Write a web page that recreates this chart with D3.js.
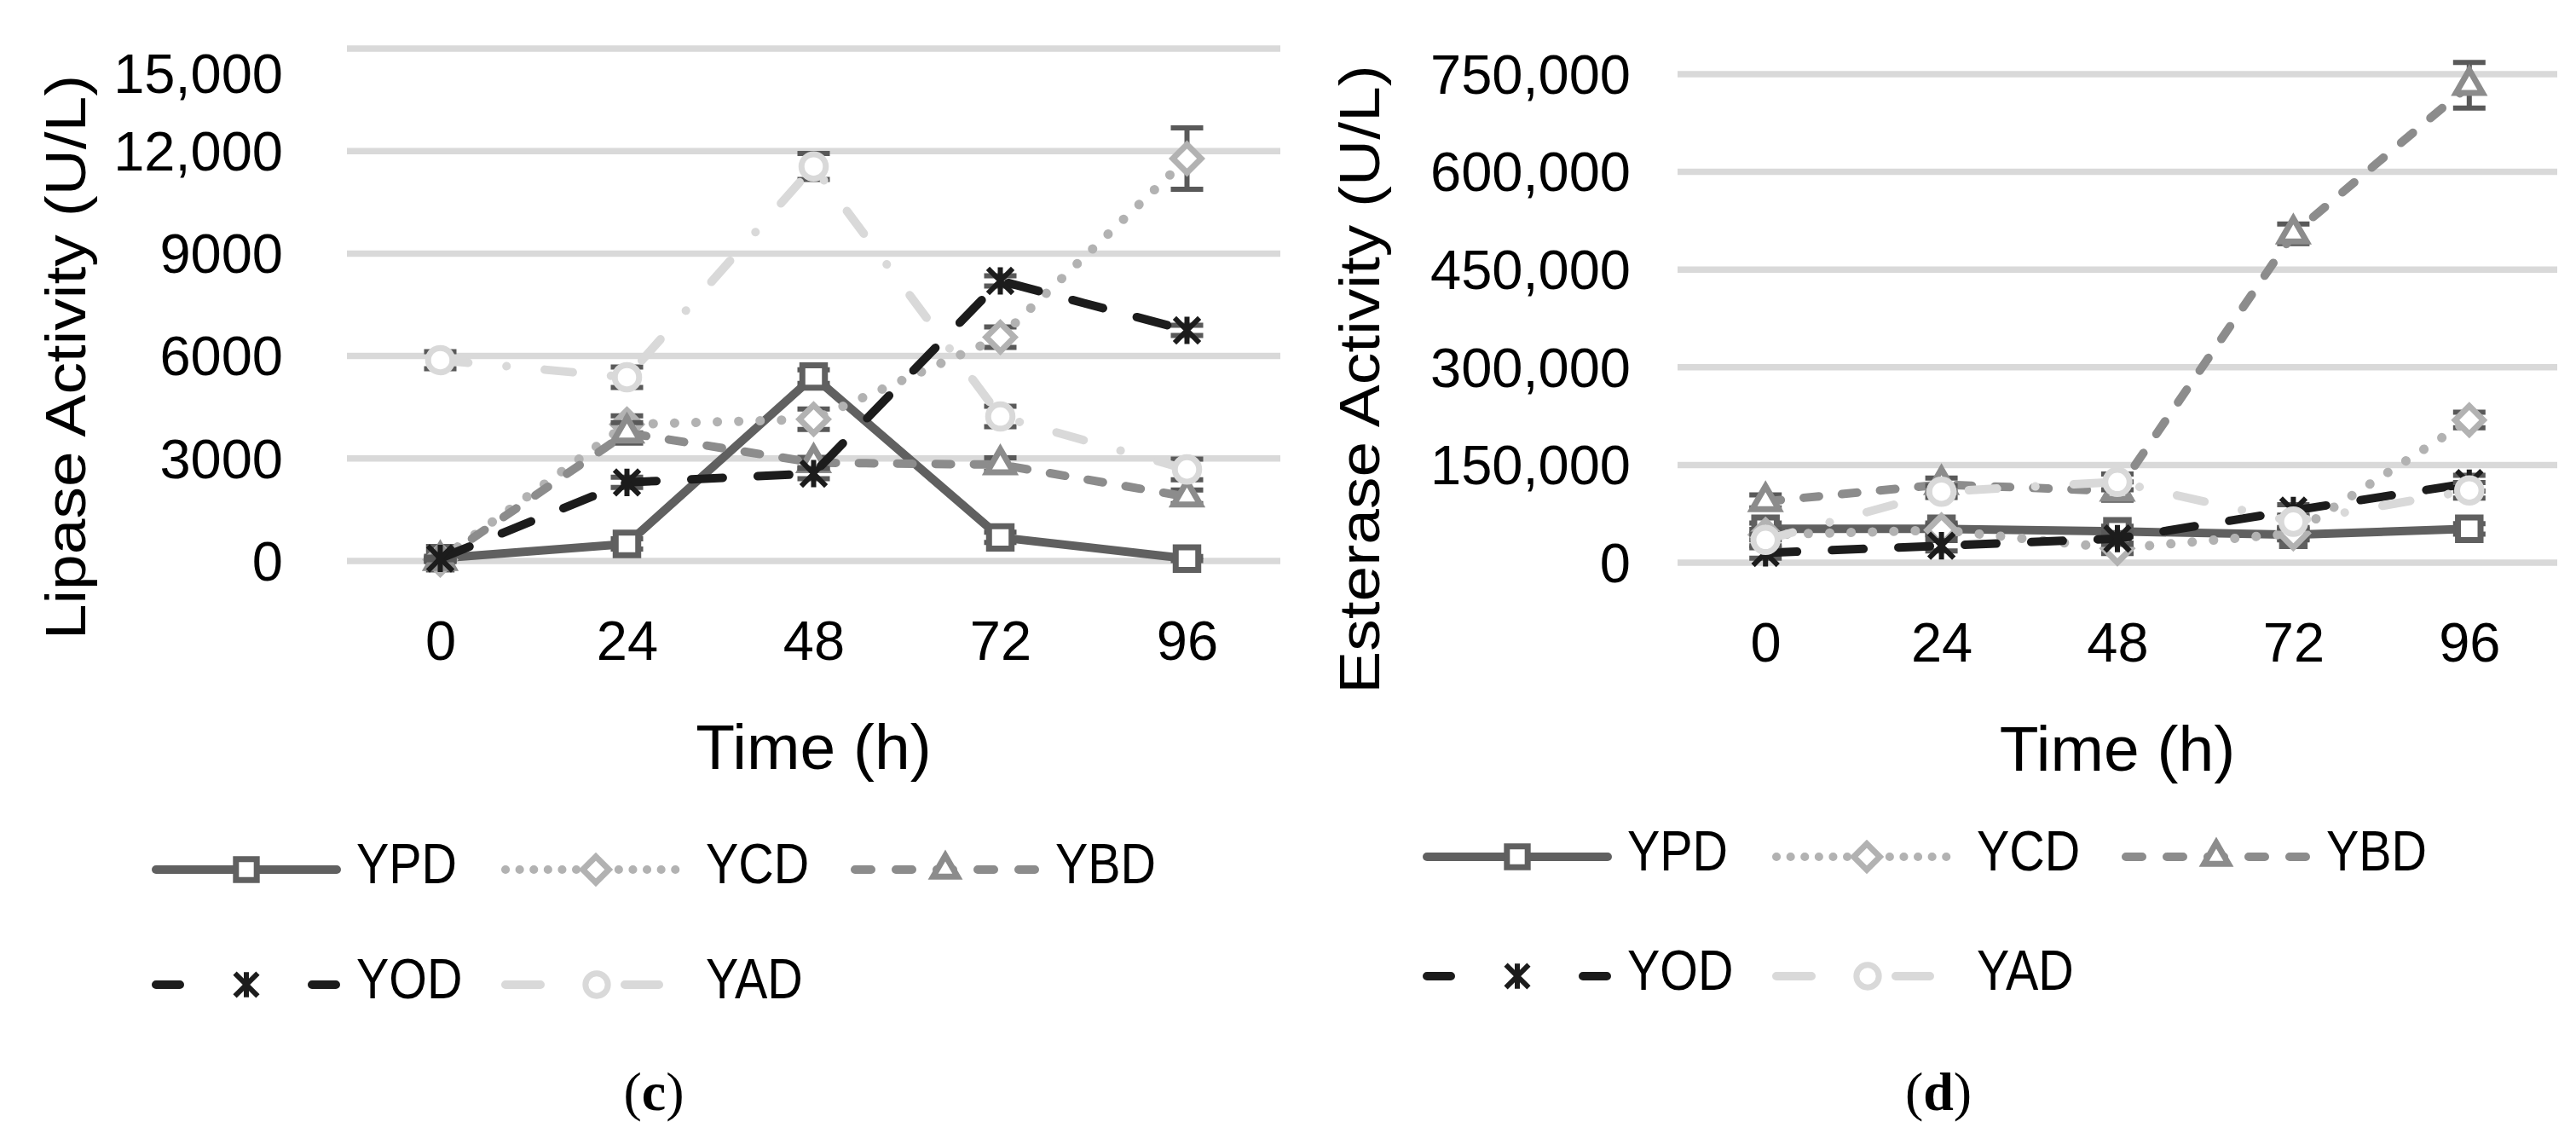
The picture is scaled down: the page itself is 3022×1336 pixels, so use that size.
<!DOCTYPE html>
<html>
<head>
<meta charset="utf-8">
<script src="https://cdn.jsdelivr.net/npm/d3@7"></script>
<style>
  body { margin: 0; background: #fff; }
  svg { display: block; }
</style>
</head>
<body>
<svg id="fig" width="3022" height="1336"></svg>
<script>
// time points (h) and series
var times = [0, 24, 48, 72, 96];
var seriesNames = ["YPD", "YCD", "YBD", "YOD", "YAD"];

// (c) lipase activity, U/L
var lipaseYPD = [80, 500, 5400, 690, 70];
var lipaseYCD = [40, 4000, 4150, 6550, 11780];
var lipaseYBD = [20, 3750, 2880, 2820, 1880];
var lipaseYOD = [75, 2300, 2560, 8200, 6750];
var lipaseYAD = [5880, 5380, 11550, 4230, 2680];
// error bars (sd)
var lipaseErrYPD = [60, 150, 200, 150, 60];
var lipaseErrYCD = [40, 250, 300, 300, 900];
var lipaseErrYBD = [40, 300, 150, 200, 200];
var lipaseErrYOD = [40, 150, 150, 150, 150];
var lipaseErrYAD = [250, 300, 380, 300, 300];
var lipaseTicks = [0, 3000, 6000, 9000, 12000, 15000];
var lipaseTickLabels = ["0", "3000", "6000", "9000", "12,000", "15,000"];

// (d) esterase activity, U/L
var esteraseYPD = [52000, 52000, 48000, 43000, 52000];
var esteraseYCD = [43000, 50000, 22000, 45000, 219000];
var esteraseYBD = [94000, 120000, 110000, 505000, 733000];
var esteraseYOD = [15000, 26000, 37000, 80000, 122000];
var esteraseYAD = [35000, 109000, 124000, 63000, 111000];
var esteraseErrYPD = [9000, 9000, 8000, 8000, 8000];
var esteraseErrYCD = [8000, 8000, 8000, 9000, 12000];
var esteraseErrYBD = [10000, 10000, 14000, 15000, 35000];
var esteraseErrYOD = [8000, 8000, 9000, 9000, 12000];
var esteraseErrYAD = [9000, 9000, 12000, 10000, 12000];
var esteraseTicks = [0, 150000, 300000, 450000, 600000, 750000];
var esteraseTickLabels = ["0", "150,000", "300,000", "450,000", "600,000", "750,000"];

// custom excel-like star marker (x plus vertical bar)
var symbolStar = {
  draw: function(ctx, size) {
    var r = Math.sqrt(size) / 2;
    ctx.moveTo(-r, -r); ctx.lineTo(r, r);
    ctx.moveTo(-r, r); ctx.lineTo(r, -r);
    ctx.moveTo(0, -r * 1.1); ctx.lineTo(0, r * 1.1);
  }
};

var styles = {
  YPD: { color: "#606060", dash: null, legendDash: null, symbol: d3.symbolSquare, size: 700, fill: "#fff", mw: 7 },
  YCD: { color: "#b2b2b2", dash: "0.1 25", legendDash: "0.1 16.5", symbol: d3.symbolDiamond2, size: 700, fill: "#fff", mw: 7 },
  YBD: { color: "#8c8c8c", dash: "18 27", legendDash: "19 29", symbol: d3.symbolTriangle, size: 420, fill: "#fff", mw: 7 },
  YOD: { color: "#1c1c1c", dash: "37 41", legendDash: "28 155", symbol: symbolStar, size: 850, fill: "none", mw: 6 },
  YAD: { color: "#d9d9d9", dash: "33 45 0.1 45", legendDash: "41 99 41", symbol: d3.symbolCircle, size: 640, fill: "#fff", mw: 7 }
};

var svg = d3.select("#fig");

function drawPanel(cfg) {
  var g = svg.append("g");

  var x = d3.scalePoint().domain(times).range(cfg.xRange).padding(0.5);
  var y = d3.scaleLinear().domain([0, cfg.ticks[cfg.ticks.length - 1]]).range(cfg.yRange);

  // gridlines
  g.append("g").selectAll("line")
    .data(cfg.ticks)
    .join("line")
    .attr("x1", cfg.xRange[0]).attr("x2", cfg.xRange[1])
    .attr("y1", d => y(d)).attr("y2", d => y(d))
    .attr("stroke", "#d9d9d9").attr("stroke-width", 7.5);

  // y tick labels (excel keeps the top one inside the chart area)
  g.append("g").selectAll("text")
    .data(cfg.ticks)
    .join("text")
    .attr("x", cfg.tickRight)
    .attr("y", d => Math.max(y(d), 86))
    .attr("dy", "0.35em")
    .attr("text-anchor", "end")
    .style("font", "65px 'Liberation Sans', Arial, sans-serif")
    .text((d, i) => cfg.tickLabels[i]);

  // x tick labels
  var xAxis = d3.axisBottom(x).tickSize(0).tickPadding(0);
  var ax = g.append("g")
    .attr("transform", "translate(0," + (cfg.xLabelBase - 47) + ")")
    .call(xAxis);
  ax.select(".domain").remove();
  ax.selectAll("text")
    .attr("dy", "0.71em")
    .style("font", "65px 'Liberation Sans', Arial, sans-serif")
    .attr("fill", "#000");

  // axis titles
  g.append("text")
    .attr("x", (cfg.xRange[0] + cfg.xRange[1]) / 2)
    .attr("y", cfg.xTitleBase)
    .attr("text-anchor", "middle")
    .style("font", "75px 'Liberation Sans', Arial, sans-serif")
    .text("Time (h)");

  g.append("text")
    .attr("transform", "translate(" + cfg.yTitleX + "," + cfg.yTitleCy + ") rotate(-90) scale(1,0.9)")
    .attr("text-anchor", "middle")
    .style("font", "75px 'Liberation Sans', Arial, sans-serif")
    .text(cfg.yTitle);

  var line = d3.line().x(d => x(d.t)).y(d => y(d.v));

  seriesNames.forEach(function(name, si) {
    var st = styles[name];
    var pts = times.map((t, i) => ({ t: t, v: cfg.values[si][i], e: cfg.errors[si][i] }));
    var sg = g.append("g");

    // error bars
    var eb = sg.append("g").attr("stroke", "#595959").attr("stroke-width", 6);
    eb.selectAll("line.v").data(pts).join("line").attr("class", "v")
      .attr("x1", d => x(d.t)).attr("x2", d => x(d.t))
      .attr("y1", d => y(d.v - d.e)).attr("y2", d => y(d.v + d.e));
    eb.selectAll("line.top").data(pts).join("line").attr("class", "top")
      .attr("x1", d => x(d.t) - 19).attr("x2", d => x(d.t) + 19)
      .attr("y1", d => y(d.v + d.e)).attr("y2", d => y(d.v + d.e));
    eb.selectAll("line.bot").data(pts).join("line").attr("class", "bot")
      .attr("x1", d => x(d.t) - 19).attr("x2", d => x(d.t) + 19)
      .attr("y1", d => y(d.v - d.e)).attr("y2", d => y(d.v - d.e));

    sg.append("path")
      .datum(pts)
      .attr("d", line)
      .attr("fill", "none")
      .attr("stroke", st.color)
      .attr("stroke-width", name === "YCD" ? 11 : 10)
      .attr("stroke-linecap", "round")
      .attr("stroke-linejoin", "round")
      .attr("stroke-dasharray", st.dash);

    sg.selectAll("path.mk").data(pts).join("path").attr("class", "mk")
      .attr("transform", d => "translate(" + x(d.t) + "," + y(d.v) + ")")
      .attr("d", d3.symbol().type(st.symbol).size(st.size))
      .attr("fill", st.fill)
      .attr("stroke", st.color)
      .attr("stroke-width", st.mw);
  });

  // legend: 3 items on first row, 2 on second
  var lg = g.append("g");
  seriesNames.forEach(function(name, i) {
    var st = styles[name];
    var row = i < 3 ? 0 : 1;
    var col = i < 3 ? i : i - 3;
    var x0 = cfg.legendX + col * 410;
    var len = name === "YAD" ? 190 : 222;
    var ly = cfg.legendY[row];
    var item = lg.append("g");
    item.append("line")
      .attr("x1", x0 + 5).attr("x2", x0 + len - 5)
      .attr("y1", ly).attr("y2", ly)
      .attr("stroke", st.color)
      .attr("stroke-width", 10)
      .attr("stroke-linecap", "round")
      .attr("stroke-dasharray", st.legendDash);
    item.append("path")
      .attr("transform", "translate(" + (x0 + (name === "YAD" ? 112 : 111)) + "," + ly + ")")
      .attr("d", d3.symbol().type(st.symbol).size(st.size * 0.85))
      .attr("fill", st.fill)
      .attr("stroke", st.color)
      .attr("stroke-width", st.mw);
    item.append("text")
      .attr("transform", "translate(" + (x0 + 240) + "," + (ly + 16) + ") scale(0.87,1)")
      .style("font", "66px 'Liberation Sans', Arial, sans-serif")
      .text(name);
  });

  // panel caption
  var cap = g.append("text")
    .attr("x", cfg.captionX).attr("y", 1302)
    .attr("text-anchor", "middle")
    .style("font", "64px 'Liberation Serif', 'Times New Roman', serif");
  cap.append("tspan").text("(");
  cap.append("tspan").style("font-weight", "bold").text(cfg.caption);
  cap.append("tspan").text(")");
}

drawPanel({
  values: [lipaseYPD, lipaseYCD, lipaseYBD, lipaseYOD, lipaseYAD],
  errors: [lipaseErrYPD, lipaseErrYCD, lipaseErrYBD, lipaseErrYOD, lipaseErrYAD],
  ticks: lipaseTicks, tickLabels: lipaseTickLabels,
  xRange: [407, 1502], yRange: [658, 57],
  tickRight: 332, xLabelBase: 775, xTitleBase: 902,
  yTitle: "Lipase Activity (U/L)", yTitleX: 100, yTitleCy: 419,
  legendX: 178, legendY: [1020, 1155],
  captionX: 767, caption: "c"
});

drawPanel({
  values: [esteraseYPD, esteraseYCD, esteraseYBD, esteraseYOD, esteraseYAD],
  errors: [esteraseErrYPD, esteraseErrYCD, esteraseErrYBD, esteraseErrYOD, esteraseErrYAD],
  ticks: esteraseTicks, tickLabels: esteraseTickLabels,
  xRange: [1968, 3000], yRange: [660, 87],
  tickRight: 1913, xLabelBase: 777, xTitleBase: 904,
  yTitle: "Esterase Activity (U/L)", yTitleX: 1618, yTitleCy: 445,
  legendX: 1669, legendY: [1005, 1145],
  captionX: 2274, caption: "d"
});
</script>
</body>
</html>
